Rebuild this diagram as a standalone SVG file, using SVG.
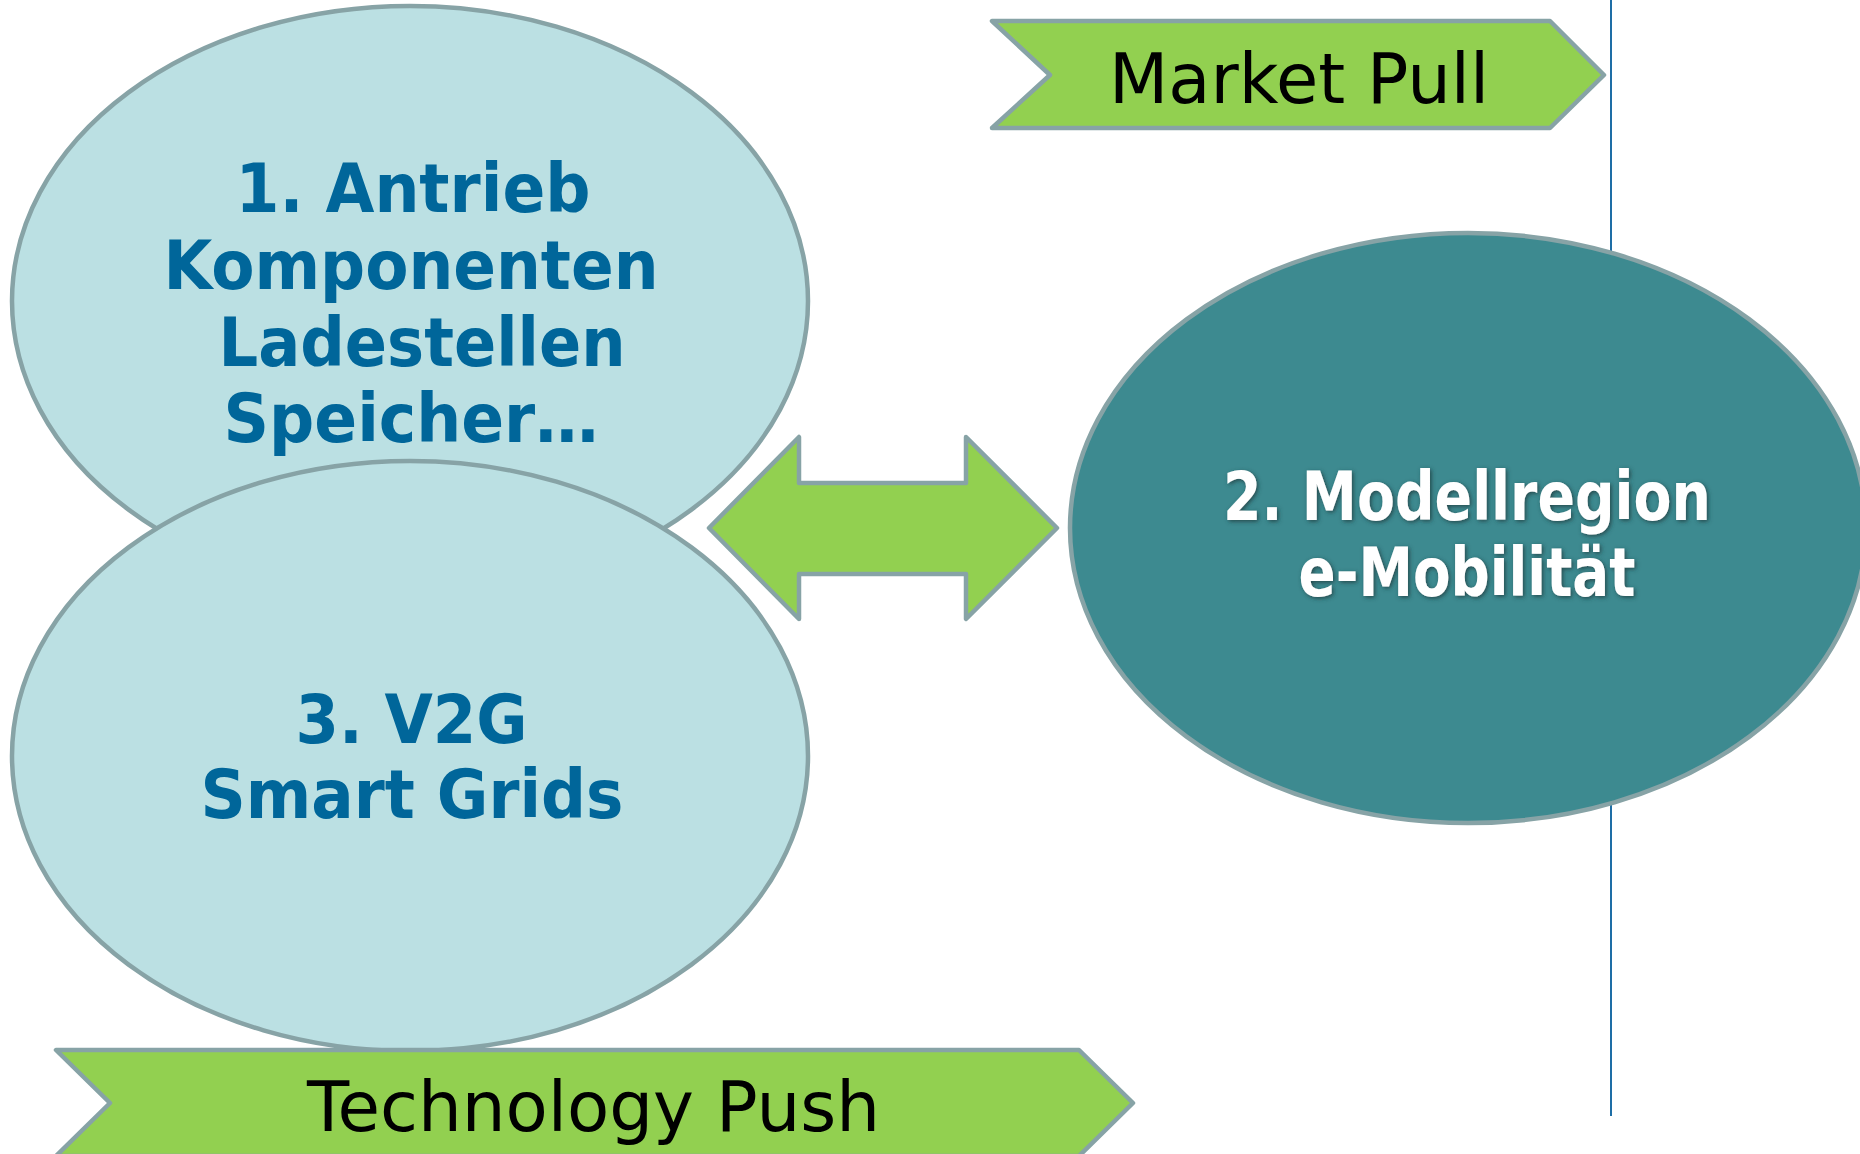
<svg xmlns="http://www.w3.org/2000/svg" width="1860" height="1154" viewBox="0 0 1860 1154">
<defs>
<style>
.light{fill:#BBE0E3;stroke:#87A3A6;stroke-width:4.5}
.dark{fill:#3D8A90;stroke:#87A3A6;stroke-width:4.5}
.green{fill:#92D050;stroke:#87A3A6;stroke-width:4.5;stroke-linejoin:round}
.bt{font-family:'DejaVu Sans','Liberation Sans',sans-serif;font-weight:bold;font-size:67px;text-anchor:middle}
.blue{fill:#00669A}
.white{fill:#FFFFFF;filter:url(#sh)}
.lbl{font-family:'DejaVu Sans','Liberation Sans',sans-serif;font-size:70px;fill:#000;text-anchor:middle}
</style>
<filter id="sh" x="-10%" y="-30%" width="120%" height="160%">
<feDropShadow dx="1.5" dy="1.5" stdDeviation="2" flood-color="#1E3E40" flood-opacity="0.85"/>
</filter>
</defs>
<g id="divider">
<line x1="1611" y1="0" x2="1611" y2="1116" stroke="#1E6EA6" stroke-width="2"/>
</g>
<g id="node1">
<ellipse class="light" cx="410" cy="301" rx="398" ry="295"/>
<text class="bt blue" x="413" y="212" textLength="355" lengthAdjust="spacingAndGlyphs">1. Antrieb</text>
<text class="bt blue" x="411" y="289" textLength="495" lengthAdjust="spacingAndGlyphs">Komponenten</text>
<text class="bt blue" x="422" y="366" textLength="407" lengthAdjust="spacingAndGlyphs">Ladestellen</text>
<text class="bt blue" x="411" y="442" textLength="375" lengthAdjust="spacingAndGlyphs">Speicher…</text>
</g>
<g id="node3">
<ellipse class="light" cx="410" cy="756" rx="398" ry="295"/>
<text class="bt blue" x="411.5" y="743" textLength="232" lengthAdjust="spacingAndGlyphs">3. V2G</text>
<text class="bt blue" x="412" y="818" textLength="423" lengthAdjust="spacingAndGlyphs">Smart Grids</text>
</g>
<g id="node2">
<ellipse class="dark" cx="1468" cy="528" rx="398" ry="295"/>
<text class="bt white" x="1467" y="520" textLength="488" lengthAdjust="spacingAndGlyphs">2. Modellregion</text>
<text class="bt white" x="1467" y="596" textLength="337" lengthAdjust="spacingAndGlyphs">e-Mobilität</text>
</g>
<g id="connectors">
<path class="green" d="M709,528 L799,437 L799,483 L966,483 L966,437 L1057,528 L966,619 L966,574 L799,574 L799,619 Z"/>
</g>
<g id="marketpull">
<path class="green" d="M992,21 L1550,21 L1604,75 L1550,128 L992,128 L1050,75 Z"/>
<text class="lbl" x="1299" y="103" textLength="380" lengthAdjust="spacingAndGlyphs">Market Pull</text>
</g>
<g id="technologypush">
<path class="green" d="M56,1050 L1079,1050 L1133,1103 L1079,1156 L56,1156 L110,1103 Z"/>
<text class="lbl" x="593.5" y="1131" textLength="573" lengthAdjust="spacingAndGlyphs">Technology Push</text>
</g>
</svg>
